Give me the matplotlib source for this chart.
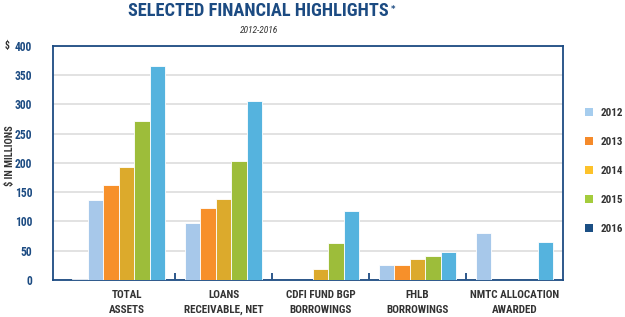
import numpy as np
import matplotlib.pyplot as plt
from matplotlib.patches import Patch

categories = ['TOTAL\nASSETS', 'LOANS\nRECEIVABLE, NET', 'CDFI FUND BGP\nBORROWINGS',
              'FHLB\nBORROWINGS', 'NMTC ALLOCATION\nAWARDED']
years = ['2012', '2013', '2014', '2015', '2016']

# bar series as drawn (left to right in each group)
navy_s = [1, 0, 0, 0, 0]
lightblue_s = [137, 97, 0, 26, 80]
orange_s = [162, 123, 0, 26, 0]
gold_s = [193, 138, 19, 36, 0]
green_s = [271, 204, 63, 41, 0]
sky_s = [365, 306, 118, 48, 65]

bar_series = [navy_s, lightblue_s, orange_s, gold_s, green_s, sky_s]
bar_colors = ['#1b4f84', '#a7c8ea', '#f7902a', '#dcaa2c', '#9dbd3a', '#55b3de']
legend_colors = ['#a6cdee', '#f58a2a', '#fdc22a', '#a4cc3c', '#1b4f84']

navy = '#1c4b82'
dark = '#333333'
narrow = ['Roboto Condensed', 'Noto Sans Condensed', 'Liberation Sans']
cond = dict(family=narrow, weight='bold')

fig = plt.figure(figsize=(6.25, 3.17), dpi=100)
ax = fig.add_axes([0.0848, 0.1167, 0.816, 0.739])

x = np.arange(len(categories))
pitch = 0.16
for j, (vals, col) in enumerate(zip(bar_series, bar_colors)):
    keep = np.array(vals) > 0
    ax.bar((x + (j - 3) * pitch)[keep], np.array(vals)[keep], width=pitch, color=col,
           edgecolor='white', linewidth=0.6, zorder=3)

ax.set_xlim(-0.76, 4.5)
ax.set_ylim(0, 400)
ax.set_yticks(np.arange(0, 401, 50))
ax.yaxis.grid(True, color='#dddddd', linewidth=1.2, zorder=0)
for s in ax.spines.values():
    s.set_color(navy)
    s.set_linewidth(1.3)

ax.set_xticks(x)
ax.set_xticklabels(categories, fontsize=8, color=dark, linespacing=1.6, **cond)
ax.tick_params(axis='x', length=0, pad=7)
ax.set_xticks(x[:-1] + 0.5, minor=True)
ax.tick_params(axis='x', which='minor', direction='in', length=5, width=1.3, color=navy)
ax.tick_params(axis='y', length=0, pad=15, labelcolor=navy, labelsize=8.3)
for t in ax.get_yticklabels():
    t.set_fontfamily(narrow)
    t.set_fontweight('bold')

ax.set_ylabel('$ IN MILLIONS', fontsize=7.5, color=dark, **cond)
ax.yaxis.set_label_coords(-0.075, 0.53)
fig.text(0.008, 0.845, '$', fontsize=7, color=dark, **cond)

fig.text(0.413, 0.995, 'SELECTED FINANCIAL HIGHLIGHTS', fontsize=13.2, color=navy,
         ha='center', va='top', family=narrow, weight='bold')
fig.text(0.626, 0.985, '*', fontsize=6, color=navy, ha='left', va='top', weight='bold')
fig.text(0.414, 0.905, '2012-2016', fontsize=6.8, color=dark, ha='center', va='center',
         style='italic', family=narrow)

handles = [Patch(facecolor=c, edgecolor='none') for c in legend_colors]
leg = fig.legend(handles, years, loc='upper left', bbox_to_anchor=(0.92, 0.692),
                 frameon=False, handlelength=0.7, handleheight=0.7, handletextpad=0.7,
                 labelspacing=1.72, prop=dict(family=narrow, size=8, weight='bold'))
for t in leg.get_texts():
    t.set_color(dark)

fig.savefig('out.png', dpi=100)
